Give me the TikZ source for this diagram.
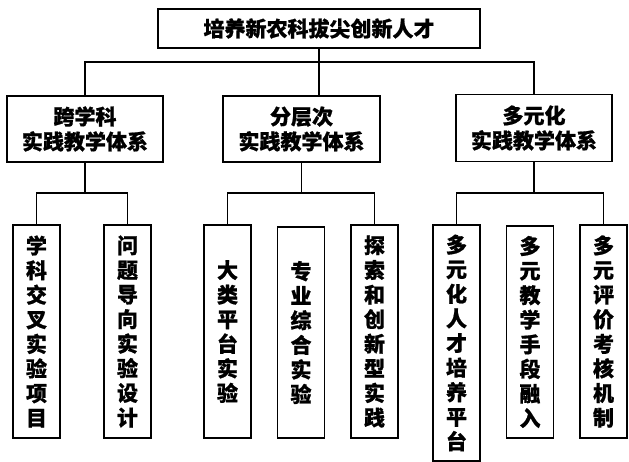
\documentclass[tikz,border=0pt]{standalone}
\usepackage{fontspec}
\newfontfamily\cjk{Noto Sans CJK SC}[BoldFeatures={FakeBold=0.8}]
\tikzset{
  box/.style={draw,line width=1.2pt,inner sep=0pt,align=center,
    font=\cjk\bfseries\fontsize{21}{25}\selectfont},
  vbox/.style={box,minimum width=47pt,minimum height=213pt,
    font=\cjk\bfseries\fontsize{21}{24.6}\selectfont}
}
\begin{document}
\begin{tikzpicture}[x=1pt,y=-1pt,line width=1.2pt]
 \useasboundingbox (0,0) rectangle (629,462);

 % top
 \node[box,minimum width=322pt,minimum height=39pt] (top) at (319,28.5) {培养新农科拔尖创新人才};

 % three systems
 \node[box,minimum width=156pt,minimum height=66pt] (kxk) at (85,129) {跨学科\\实践教学体系};
 \node[box,minimum width=157pt,minimum height=66pt] (fcc) at (301.5,129) {分层次\\实践教学体系};
 \node[box,minimum width=156pt,minimum height=67pt] (dyh) at (534,128) {多元化\\实践教学体系};

 \coordinate (bus) at (0,62);
 \draw (top.south) -- (top.south |- fcc.north);
 \draw (kxk.north) -- (kxk.north |- bus) -- (dyh.north |- bus) -- (dyh.north);

 % bottom boxes
 \node[vbox] (xkjc) at (36.5,331.5) {学\\科\\交\\叉\\实\\验\\项\\目};
 \node[vbox] (wtdx) at (127.5,331.5) {问\\题\\导\\向\\实\\验\\设\\计};
 \node[vbox] (dlpt) at (227.5,331.5) {大\\类\\平\\台\\实\\验};
 \node[vbox,minimum height=211pt] (zyzh) at (301,332.5) {专\\业\\综\\合\\实\\验};
 \node[vbox] (tscx) at (374.5,331.5) {探\\索\\和\\创\\新\\型\\实\\践};
 \node[vbox,minimum height=236pt] (dyrc) at (456.5,343) {多\\元\\化\\人\\才\\培\\养\\平\\台};
 \node[vbox,minimum height=212pt] (dyjx) at (530,332) {多\\元\\教\\学\\手\\段\\融\\入};
 \node[vbox] (dypj) at (603.5,331.5) {多\\元\\评\\价\\考\\核\\机\\制};

 \coordinate (sub) at (0,193);
 \draw (kxk.south) -- (kxk.south |- sub);
 \draw (xkjc.north) -- (xkjc.north |- sub) -- (wtdx.north |- sub) -- (wtdx.north);
 \draw (fcc.south) -- (fcc.south |- sub);
 \draw (dlpt.north) -- (dlpt.north |- sub) -- (tscx.north |- sub) -- (tscx.north);
 \draw (dyh.south) -- (dyh.south |- sub);
 \draw (dyrc.north) -- (dyrc.north |- sub) -- (dypj.north |- sub) -- (dypj.north);

\end{tikzpicture}
\end{document}
